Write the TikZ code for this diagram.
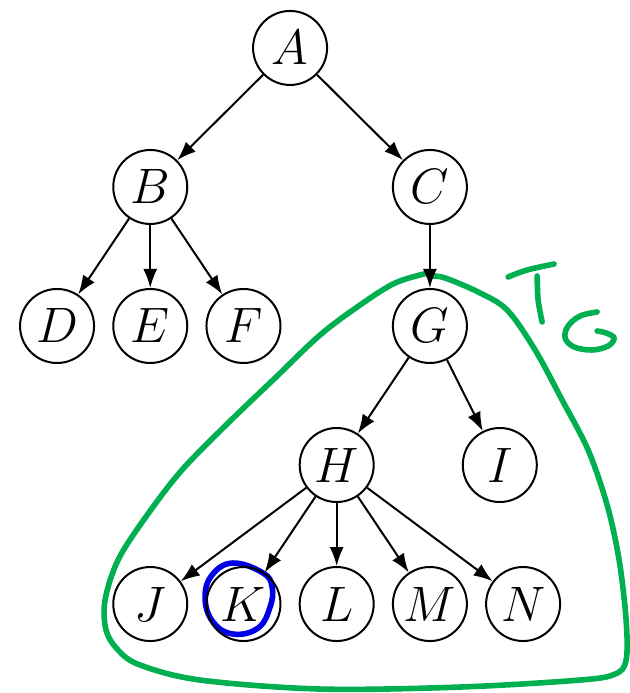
\documentclass[tikz,border=0pt]{standalone}
\usepackage{amsmath,amssymb}
\usepackage{tikz}
\usepackage{xcolor}
\usetikzlibrary{arrows.meta,calc,positioning}
\definecolor{penGreen}{RGB}{0,176,80}
\definecolor{penBlue}{RGB}{0,0,230}

\begin{document}
\begin{tikzpicture}[x=46.6pt,y=69.5pt,>={Latex[length=9.5pt,width=7pt]},
  vtx/.style={draw,circle,line width=1pt,minimum size=37pt,inner sep=0pt,
    font=\fontsize{25}{30}\selectfont},
  edge/.style={->,line width=1pt},
  pen/.style={line width=2.8pt,line cap=round,line join=round}]
  \useasboundingbox (-0.612,-0.640) rectangle (6.137,4.345);

  % hand-drawn marks (pixel frame)
  \begin{scope}[x=0.5pt,y=-0.5pt,shift={(-28.5pt,302pt)}]
    \draw[pen,penGreen] plot[smooth,tension=0.55] coordinates {
      (428,273) (395,283) (360,305) (320,335) (275,378) (226,425)
      (181,471) (145,518) (118,560) (105,600) (106,630) (118,650)
      (140,665) (200,680) (320,689) (460,687) (580,680) (615,674)
      (626,660) (626,620) (619,560) (607,505) (588,450) (562,400)
      (535,350) (507,310) (478,292) (445,278) (432,276)};
    % T_G
    \draw[pen,penGreen] plot[smooth] coordinates {(508,277) (527,270) (554,264)};
    \draw[pen,penGreen] plot[smooth] coordinates {(537,276) (538,300) (542,322)};
    \draw[pen,penGreen] plot[smooth,tension=0.6] coordinates {
      (597,312) (580,316) (568,326) (565,338) (574,347) (592,350)
      (608,346) (614,338) (606,333) (597,331)};
    % mark on K
    \draw[pen,penBlue] plot[smooth cycle,tension=0.7] coordinates {
      (263,573) (233,563) (212,575) (205,598) (213,622) (233,634)
      (258,628) (270,607) (272,587)};
  \end{scope}

  % tree
  \node[vtx] (A) at (2.5,4) {$A$};
  \node[vtx] (B) at (1,3) {$B$};
  \node[vtx] (C) at (4,3) {$C$};
  \node[vtx] (D) at (0,2) {$D$};
  \node[vtx] (E) at (1,2) {$E$};
  \node[vtx] (F) at (2,2) {$F$};
  \node[vtx] (G) at (4,2) {$G$};
  \node[vtx] (H) at (3,1) {$H$};
  \node[vtx] (I) at (4.75,1) {$I$};
  \node[vtx] (J) at (1,0) {$J$};
  \node[vtx] (K) at (2,0) {$K$};
  \node[vtx] (L) at (3,0) {$L$};
  \node[vtx] (M) at (4,0) {$M$};
  \node[vtx] (N) at (5,0) {$N$};

  \draw[edge] (A) -- (B);
  \draw[edge] (A) -- (C);
  \draw[edge] (B) -- (D);
  \draw[edge] (B) -- (E);
  \draw[edge] (B) -- (F);
  \draw[edge] (C) -- (G);
  \draw[edge] (G) -- (H);
  \draw[edge] (G) -- (I);
  \draw[edge] (H) -- (J);
  \draw[edge] (H) -- (K);
  \draw[edge] (H) -- (L);
  \draw[edge] (H) -- (M);
  \draw[edge] (H) -- (N);
\end{tikzpicture}
\end{document}
